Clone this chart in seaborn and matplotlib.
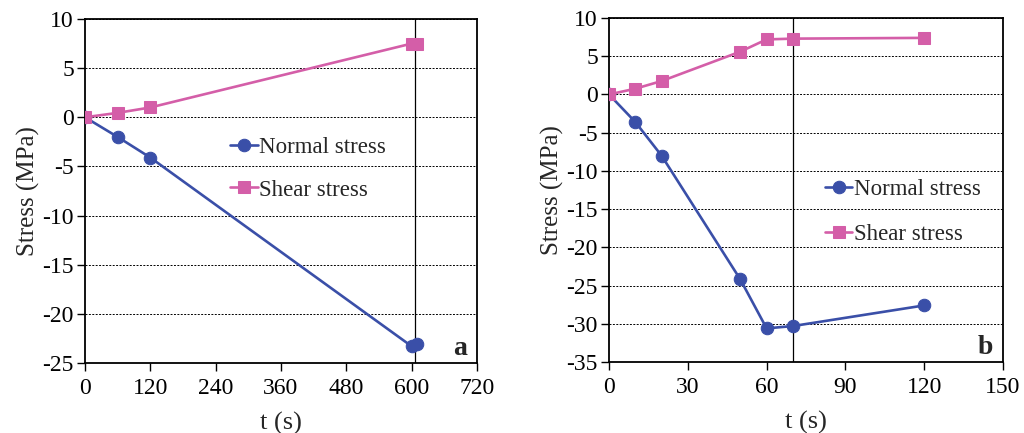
import matplotlib
matplotlib.use("Agg")
import matplotlib.pyplot as plt
import seaborn as sns
import pandas as pd

sns.set_theme(style="white")
plt.rcParams['font.family'] = ['Liberation Serif', 'DejaVu Serif']
plt.rcParams['axes.unicode_minus'] = False

# Panel a data
t_a = [0, 60, 120, 600, 610]
normal_a = [0, -2.0, -4.1, -23.3, -23.1]
shear_a = [0, 0.45, 1.0, 7.5, 7.5]
vline_a = 606

# Panel b data
t_b = [0, 10, 20, 50, 60, 70, 120]
normal_b = [0, -3.6, -8.0, -24.2, -30.6, -30.3, -27.6]
shear_b = [0, 0.75, 1.75, 5.6, 7.2, 7.3, 7.4]
vline_b = 70

xticks_a = [0, 120, 240, 360, 480, 600, 720]
yticks_a = [10, 5, 0, -5, -10, -15, -20, -25]
xticks_b = [0, 30, 60, 90, 120, 150]
yticks_b = [10, 5, 0, -5, -10, -15, -20, -25, -30, -35]

blue = '#3A4FA8'
pink = '#D45EA8'

fig = plt.figure(figsize=(10.24, 4.33), dpi=100)
ax1 = fig.add_axes([85/1024, 1-363/433, 392/1024, 344/433])
ax2 = fig.add_axes([609/1024, 1-362/433, 394/1024, 344/433])

def draw(ax, t, nrm, shr, vx, xt, yt, letter, leg_anchor, spacing):
    for yv in yt:
        ax.axhline(yv, color='black', lw=0.7, ls=(0, (2, 1.5)), zorder=0)
    ax.axvline(vx, color='black', lw=0.9, zorder=1)
    sns.lineplot(x=t, y=nrm, ax=ax, color=blue, marker='o', markersize=9,
                 markeredgecolor=blue, lw=1.9, label='Normal stress', zorder=3)
    sns.lineplot(x=t, y=shr, ax=ax, color=pink, marker='s', markersize=8,
                 markeredgecolor=pink, lw=1.9, label='Shear stress', zorder=3)
    ax.set_xlim(xt[0], xt[-1])
    ax.set_ylim(min(yt), max(yt))
    ax.set_xticks(xt)
    ax.set_yticks(yt)
    ax.tick_params(axis='both', direction='out', length=6, width=1, labelsize=17,
                   left=True, bottom=True, colors='black')
    ax.tick_params(axis='x', pad=5)
    ax.tick_params(axis='y', pad=2)
    for sp in ax.spines.values():
        sp.set_color('black')
        sp.set_linewidth(1.3)
    ax.set_xlabel('t (s)', fontsize=19, labelpad=9)
    ax.set_ylabel('Stress (MPa)', fontsize=18, labelpad=2)
    ax.text(0.975, 0.005, letter, transform=ax.transAxes, ha='right', va='bottom',
            fontsize=20, fontweight='bold')
    ax.legend(loc='upper left', bbox_to_anchor=leg_anchor, frameon=False,
              fontsize=16.5, handlelength=1.2, handletextpad=0.05, labelspacing=spacing,
              borderaxespad=0, borderpad=0)
    ax.set_facecolor('white')

draw(ax1, t_a, normal_a, shear_a, vline_a, xticks_a, yticks_a, 'a', (0.37, 0.658), 0.95)
draw(ax2, t_b, normal_b, shear_b, vline_b, xticks_b, yticks_b, 'b', (0.548, 0.533), 1.05)

fig.savefig('out.png', dpi=100, facecolor='white')
